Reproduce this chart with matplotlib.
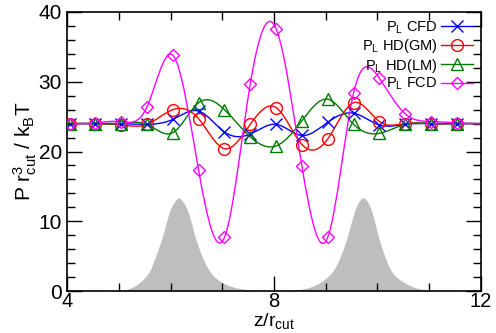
import numpy as np
import matplotlib
matplotlib.use('Agg')
import matplotlib.pyplot as plt
from matplotlib.path import Path
from matplotlib.patches import PathPatch
from matplotlib.lines import Line2D

plt.rcParams['font.family'] = ['Liberation Sans', 'DejaVu Sans']
plt.rcParams['mathtext.fontset'] = 'custom'
plt.rcParams['mathtext.rm'] = 'Liberation Sans'
plt.rcParams['mathtext.it'] = 'Liberation Sans:italic'

# sample positions (bin centres) and pressure profiles
z = [4.04, 4.54, 5.04, 5.54, 6.04, 6.54, 7.04, 7.54,
     8.04, 8.54, 9.04, 9.54, 10.04, 10.54, 11.04, 11.54]
p_cfd = [24.0, 24.0, 24.0, 23.9, 24.6, 25.8, 22.8, 22.5,
         23.9, 22.3, 24.2, 25.5, 23.8, 23.9, 24.0, 24.0]
p_gm = [24.0, 24.0, 23.8, 23.9, 26.0, 24.7, 20.4, 23.9,
        26.3, 21.0, 21.8, 27.0, 24.3, 24.0, 24.0, 24.0]
p_lm = [24.0, 24.0, 24.0, 23.9, 22.7, 27.0, 26.0, 22.1,
        20.8, 24.4, 27.5, 23.9, 22.6, 23.9, 24.0, 24.0]
p_fcd = [24.0, 24.1, 24.3, 26.4, 33.8, 17.3, 7.7, 29.7,
         37.6, 17.9, 7.7, 28.4, 30.5, 25.4, 24.3, 24.1]
z_end = 12.0
p_end = 24.0

# density profile (grey background)
dens_z = [4.0, 4.8, 5.21, 5.40, 5.50, 5.60, 5.73, 5.86, 5.99, 6.08, 6.167,
          6.25, 6.34, 6.47, 6.60, 6.76, 6.88, 7.02, 7.34, 7.7,
          8.2, 8.54, 8.89, 9.02, 9.15, 9.31, 9.44, 9.57, 9.65, 9.73,
          9.82, 9.90, 10.02, 10.14, 10.28, 10.40, 10.54, 10.8, 11.2, 12.0]
dens = [0.0, 0.02, 0.3, 1.1, 1.8, 2.8, 5.2, 8.0, 11.4, 12.7, 13.3,
        12.7, 11.4, 8.0, 5.2, 2.8, 1.8, 1.1, 0.3, 0.05,
        0.05, 0.2, 1.1, 1.8, 2.8, 5.2, 8.0, 11.4, 12.7, 13.3,
        12.7, 11.4, 8.0, 5.2, 2.8, 1.8, 1.1, 0.3, 0.05, 0.0]

labels = [r'P$_\mathrm{L}$ CFD', r'P$_\mathrm{L}$ HD(GM)',
          r'P$_\mathrm{L}$ HD(LM)', r'P$_\mathrm{L}$ FCD']
colors = ['#0000ff', '#ff0000', '#007a00', '#ff00ff']
markers = ['x', 'o', '^', 'D']
msizes = [8, 8.5, 8, 6.5]


def spline_path(x, y):
    # natural cubic spline drawn as cubic bezier segments
    x = np.asarray(x, float)
    y = np.asarray(y, float)
    n = len(x)
    h = np.diff(x)
    d = np.diff(y) / h
    A = np.zeros((n, n))
    b = np.zeros(n)
    A[0, 0], A[0, 1], b[0] = 2, 1, 3 * d[0]
    for i in range(1, n - 1):
        A[i, i - 1] = h[i]
        A[i, i] = 2 * (h[i - 1] + h[i])
        A[i, i + 1] = h[i - 1]
        b[i] = 3 * (h[i] * d[i - 1] + h[i - 1] * d[i])
    A[-1, -2], A[-1, -1], b[-1] = 1, 2, 3 * d[-1]
    m = np.linalg.solve(A, b)
    verts = [(x[0], y[0])]
    codes = [Path.MOVETO]
    for i in range(n - 1):
        verts += [(x[i] + h[i] / 3, y[i] + m[i] * h[i] / 3),
                  (x[i + 1] - h[i] / 3, y[i + 1] - m[i + 1] * h[i] / 3),
                  (x[i + 1], y[i + 1])]
        codes += [Path.CURVE4] * 3
    return verts, codes


fig = plt.figure(figsize=(4.96, 3.33), dpi=100)
ax = fig.add_axes([0.136, 0.126, 0.833, 0.838])

verts, codes = spline_path(dens_z, dens)
verts = verts + [(dens_z[-1], 0), (dens_z[0], 0), (dens_z[0], 0)]
codes = codes + [Path.LINETO, Path.LINETO, Path.CLOSEPOLY]
ax.add_patch(PathPatch(Path(verts, codes), facecolor='#bebebe',
                       edgecolor='none', zorder=1))

handles = []
for p, c, mk, ms, lab in zip([p_cfd, p_gm, p_lm, p_fcd], colors, markers,
                             msizes, labels):
    verts, codes = spline_path(z + [z_end], p + [p_end])
    ax.add_patch(PathPatch(Path(verts, codes), facecolor='none',
                           edgecolor=c, lw=1.0, zorder=2))
    ax.plot(z, p, ls='none', marker=mk, ms=ms, mfc='none', mec=c,
            mew=1.0, zorder=3)
    handles.append(Line2D([], [], color=c, lw=1.0, marker=mk, ms=ms,
                          mfc='none', mec=c, mew=1.0))

ax.set_xlim(4, 12)
ax.set_ylim(0, 40)
ax.set_xticks([4, 8, 12])
ax.set_xticks([5, 6, 7, 9, 10, 11], minor=True)
ax.set_yticks([0, 10, 20, 30, 40])
ax.set_yticks(np.arange(2, 40, 2), minor=True)
ax.tick_params(which='both', direction='in', top=True, right=True,
               width=1.0, labelsize=15)
ax.tick_params(axis='x', pad=1, labelsize=14.5)
ax.tick_params(axis='y', pad=4)
ax.tick_params(which='major', length=11)
ax.tick_params(which='minor', length=6)
for s in ax.spines.values():
    s.set_linewidth(1.2)

ax.set_xlabel(r'z/r$_\mathrm{cut}$', fontsize=14, labelpad=0)
ax.set_ylabel(r'P r$_\mathrm{cut}^3$ / k$_\mathrm{B}$T', fontsize=15,
              labelpad=0)

ax.legend(handles, labels, loc='upper right', markerfirst=False,
          frameon=False, fontsize=10.5, handlelength=2.2, handletextpad=0.25,
          labelspacing=0.1, borderaxespad=0.3, borderpad=0.2)

fig.savefig('out.png', dpi=100)
